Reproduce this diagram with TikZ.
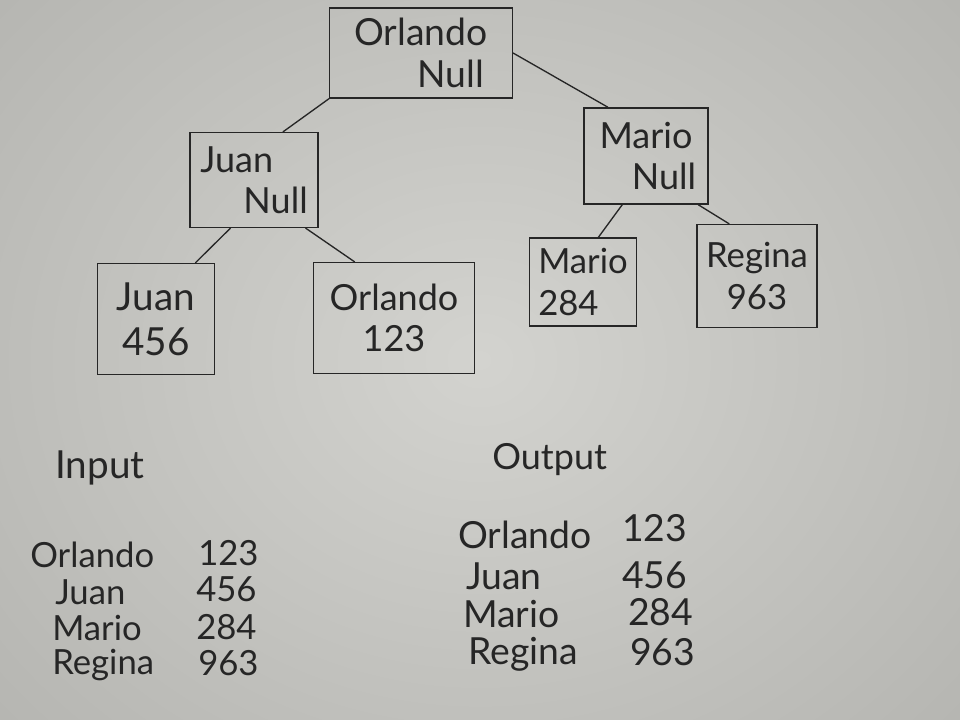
\documentclass[tikz,border=0pt]{standalone}
\usepackage{fontspec}
\setmainfont{Lato}
\definecolor{paper}{HTML}{D3D3CF}
\definecolor{paperdark}{HTML}{B4B4B0}
\definecolor{ink}{HTML}{262626}
\begin{document}
\begin{tikzpicture}[x=0.75pt,y=-0.75pt,
  box/.style={draw=ink,line width=1.1pt,inner sep=1pt,align=center,text=ink,font=\fontsize{27}{31}\selectfont},
  lbl/.style={text=ink,anchor=west,inner sep=0pt,font=\fontsize{28}{32}\selectfont},
  ilbl/.style={text=ink,anchor=west,inner sep=0pt,font=\fontsize{26}{30}\selectfont},
  head/.style={text=ink,anchor=west,inner sep=0pt,font=\fontsize{29}{34}\selectfont},
  edge/.style={draw=ink,line width=1pt}]
\useasboundingbox (0,0) rectangle (960,720);
\shade[inner color=paper,outer color=paperdark] (-200,-220) rectangle (1160,940);
% tree
\node[box,minimum width=137pt,minimum height=67.5pt,font=\fontsize{28}{32}\selectfont] (root) at (421,53) {Orlando\\\hspace{1.6em}Null};
\node[box,minimum width=96pt,minimum height=71pt,align=left] (juanN) at (254,180) {Juan\\\hspace{1.2em}Null};
\node[box,minimum width=93pt,minimum height=72pt] (marioN) at (646,156) {Mario\\\hspace{1.0em}Null};
\node[box,minimum width=88pt,minimum height=83pt,font=\fontsize{29}{34}\selectfont] (juan) at (156,319) {Juan\\456};
\node[box,minimum width=121pt,minimum height=83pt] (orl) at (394,318) {Orlando\\123\hspace{1em}};
\node[box,minimum width=80pt,minimum height=66pt,align=left,font=\fontsize{26}{32}\selectfont] (mario) at (583,282) {Mario\\284};
\node[box,minimum width=90pt,minimum height=77pt,font=\fontsize{26}{32}\selectfont] (regina) at (757,276) {Regina\\963};
\draw[edge] (root.south west) -- (juanN.59);
\draw[edge] (root.east) -- (marioN.128);
\draw[edge] (juanN.244) -- (juan.55);
\draw[edge] (juanN.317) -- (orl.125);
\draw[edge] (marioN.244) -- (mario.71);
\draw[edge] (marioN.317) -- (regina.118);
% input
\node[head] (inp) at (55,468) {Input};
\node[ilbl] (i1n) at (30,555) {Orlando};
\node[ilbl] (i1v) at (198,553) {123};
\node[ilbl] (i2n) at (55,592) {Juan};
\node[ilbl] (i2v) at (196,589) {456};
\node[ilbl] (i3n) at (52,628) {Mario};
\node[ilbl] (i3v) at (196,627) {284};
\node[ilbl] (i4n) at (52,665) {Regina};
\node[ilbl] (i4v) at (198,663) {963};
% output
\node[head,font=\fontsize{27}{32}\selectfont] (outp) at (492,460) {Output};
\node[lbl] (o1n) at (458,535) {Orlando};
\node[lbl] (o1v) at (622,528) {123};
\node[lbl] (o2n) at (466,576) {Juan};
\node[lbl] (o2v) at (622,575) {456};
\node[lbl] (o3n) at (463,614) {Mario};
\node[lbl] (o3v) at (628,612) {284};
\node[lbl] (o4n) at (468,654) {Regina};
\node[lbl] (o4v) at (630,652) {963};
\end{tikzpicture}
\end{document}
